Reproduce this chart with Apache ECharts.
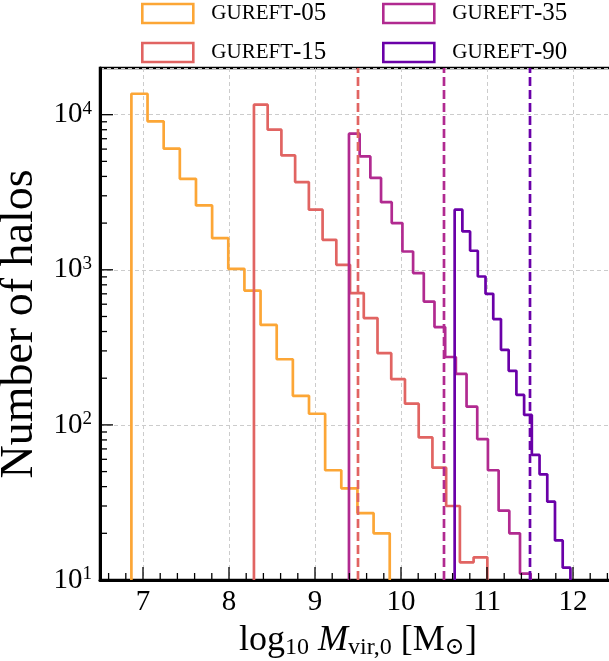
<!DOCTYPE html>
<html>
<head>
<meta charset="utf-8">
<script src="https://cdn.jsdelivr.net/npm/echarts@6/dist/echarts.min.js"></script>
<style>html,body{margin:0;padding:0;background:#fff}#c{width:609px;height:661px}</style>
</head>
<body>
<div id="c"></div>
<script>
// ---- data ----
const simNames = ['GUREFT-05', 'GUREFT-15', 'GUREFT-35', 'GUREFT-90'];
const simColors = ['#fca636', '#e16462', '#b12a90', '#6a00a8'];
// histogram bin ranges (log10 Mvir,0) and counts per bin
const binLo = [6.865, 8.290, 9.395, 10.624];
const binHi = [9.869, 11.004, 11.508, 11.970];
const counts05 = [13650, 9060, 6040, 3860, 2600, 1600, 1014, 735, 441, 265, 154, 118, 51, 39, 27, 20];
const counts15 = [11600, 8000, 5460, 3680, 2440, 1560, 1077, 708, 488, 290, 197, 137, 83, 53, 30, 13, 14];
const counts35 = [7540, 5380, 3910, 2730, 2000, 1312, 953, 624, 427, 274, 213, 131, 81, 51, 28, 20, 11];
const counts90 = [2440, 1767, 1327, 905, 700, 481, 305, 223, 156, 116, 64, 48, 32, 18, 12];
// vertical dashed reference lines
const dashX = [9.5, 10.5, 11.5];
const dashColors = ['#e16462', '#b12a90', '#6a00a8'];
// axis ranges and ticks
const xMin = 6.5, xMax = 12.5;
const yMin = 10, yMax = 20000;
const xMajorTicks = [7, 8, 9, 10, 11, 12];
const yMajorTicks = [10, 100, 1000, 10000];
const yMinorMult = [2, 3, 4, 5, 6, 7, 8, 9];

const allCounts = [counts05, counts15, counts35, counts90];

function stepPoints(lo, hi, counts) {
  const n = counts.length, w = (hi - lo) / n;
  const pts = [[lo, yMin]];
  for (let i = 0; i < n; i++) {
    pts.push([lo + i * w, counts[i]]);
    pts.push([lo + (i + 1) * w, counts[i]]);
  }
  pts.push([hi, yMin]);
  return pts;
}

// tick lists
const xMinorTicks = [];
for (let k = 0; k < 30; k++) {
  const v = +(xMin + 0.1 + k * 0.2).toFixed(2);
  if (v < xMax && !xMajorTicks.some(t => Math.abs(t - v) < 1e-6)) xMinorTicks.push(v);
}
const yMinorTicks = [];
yMajorTicks.forEach(d => yMinorMult.forEach(m => { if (d * m < yMax) yMinorTicks.push(d * m); }));

const FONT = '"Liberation Serif", "DejaVu Serif", serif';

const series = [];
simNames.forEach((name, i) => {
  series.push({
    name: name, type: 'line', data: stepPoints(binLo[i], binHi[i], allCounts[i]),
    symbol: 'none', lineStyle: { width: 2.7, color: simColors[i] },
    itemStyle: { color: simColors[i], borderColor: simColors[i] },
    z: 3 + i, animation: false, clip: true
  });
});
dashX.forEach((x, i) => {
  series.push({
    name: 'dash' + i, type: 'line', data: [[x, yMin], [x, yMax]], symbol: 'none',
    lineStyle: { width: 2.7, color: dashColors[i], type: [9, 4] }, z: 8, animation: false
  });
});
// tick marks (inward) drawn through the axes' own scales
series.push({
  type: 'custom', z: 20, animation: false, silent: true,
  data: xMajorTicks.map(v => [v, 1]).concat(xMinorTicks.map(v => [v, 0])),
  renderItem: (params, api) => {
    const p = api.coord([api.value(0), yMin]);
    const len = api.value(1) ? 13 : 7;
    return { type: 'line', shape: { x1: p[0], y1: p[1], x2: p[0], y2: p[1] - len }, style: { stroke: '#000', lineWidth: 1.3 } };
  }
});
series.push({
  type: 'custom', z: 20, animation: false, silent: true,
  data: yMajorTicks.map(v => [xMin, v, 1]).concat(yMinorTicks.map(v => [xMin, v, 0])),
  renderItem: (params, api) => {
    const p = api.coord([xMin, api.value(1)]);
    const len = api.value(2) ? 13 : 7;
    return { type: 'line', shape: { x1: p[0], y1: p[1], x2: p[0] + len, y2: p[1] }, style: { stroke: '#000', lineWidth: 1.3 } };
  }
});

const legendRich = {
  sc: { fontFamily: FONT, fontSize: 21, color: '#000', lineHeight: 20 },
  n: { fontFamily: FONT, fontSize: 25, color: '#000', lineHeight: 20 }
};
function legendFmt(name) { const p = name.split('-'); return '{sc|' + p[0] + '}{n|-' + p[1] + '}'; }
function mkLegend(left, names) {
  return {
    left: left, top: 1, padding: 0, orient: 'vertical', itemWidth: 51, itemHeight: 19, itemGap: 14,
    selectedMode: false,
    data: names.map((n) => ({
      name: n, icon: 'rect',
      itemStyle: { color: '#fff', borderColor: simColors[simNames.indexOf(n)], borderWidth: 2.6 }
    })),
    formatter: legendFmt,
    textStyle: { rich: legendRich, padding: [0, 0, 0, 13] }
  };
}

const option = {
  backgroundColor: '#fff',
  animation: false,
  legend: [mkLegend(141, ['GUREFT-05', 'GUREFT-15']), mkLegend(382, ['GUREFT-35', 'GUREFT-90'])],
  grid: {
    left: 100, top: 68, width: 516, height: 512, outerBoundsMode: 'none', containLabel: false,
    show: true, borderColor: '#000', borderWidth: 2.5, backgroundColor: 'transparent'
  },
  xAxis: {
    type: 'value', min: xMin, max: xMax, splitNumber: 6,
    axisLine: { show: true, lineStyle: { color: '#000', width: 3 } },
    axisTick: { show: false },
    splitLine: { show: true, lineStyle: { color: '#cccccc', width: 1, type: [4, 3] } },
    axisLabel: {
      margin: 8, color: '#000', fontFamily: FONT, fontSize: 29,
      formatter: v => (Math.abs(v - Math.round(v)) < 1e-9 && v > xMin && v < xMax) ? String(Math.round(v)) : ''
    },
    name: '{r|log}{sub|10}{r| }{i|M}{sub|vir,0}{r| [M}{sub|⊙}{r|]}',
    nameLocation: 'middle', nameGap: 42,
    nameTextStyle: {
      rich: {
        r: { fontFamily: FONT, fontSize: 36, color: '#000' },
        i: { fontFamily: FONT, fontSize: 36, fontStyle: 'italic', color: '#000' },
        sub: { fontFamily: FONT, fontSize: 24, color: '#000', verticalAlign: 'bottom', padding: [14, 0, 0, 0] }
      }
    }
  },
  yAxis: {
    type: 'log', logBase: 10, min: yMin, max: yMax,
    axisLine: { show: true, lineStyle: { color: '#000', width: 3 } },
    axisTick: { show: false },
    splitLine: { show: true, lineStyle: { color: '#cccccc', width: 1, type: [4, 3] } },
    axisLabel: {
      margin: 8, color: '#000',
      formatter: v => {
        const e = Math.log10(v);
        if (Math.abs(e - Math.round(e)) > 1e-6 || v > 10001) return '';
        return '{b|10}{s|' + Math.round(e) + '}';
      },
      rich: {
        b: { fontFamily: FONT, fontSize: 29, color: '#000', lineHeight: 30 },
        s: { fontFamily: FONT, fontSize: 19, color: '#000', verticalAlign: 'top', lineHeight: 18 }
      }
    },
    name: 'Number of halos', nameLocation: 'middle', nameGap: 39, nameRotate: 90,
    nameTextStyle: { fontFamily: FONT, fontSize: 46, color: '#000' }
  },
  series: series
};

const chart = echarts.init(document.getElementById('c'), null, { renderer: 'canvas' });
chart.setOption(option);
</script>
</body>
</html>
